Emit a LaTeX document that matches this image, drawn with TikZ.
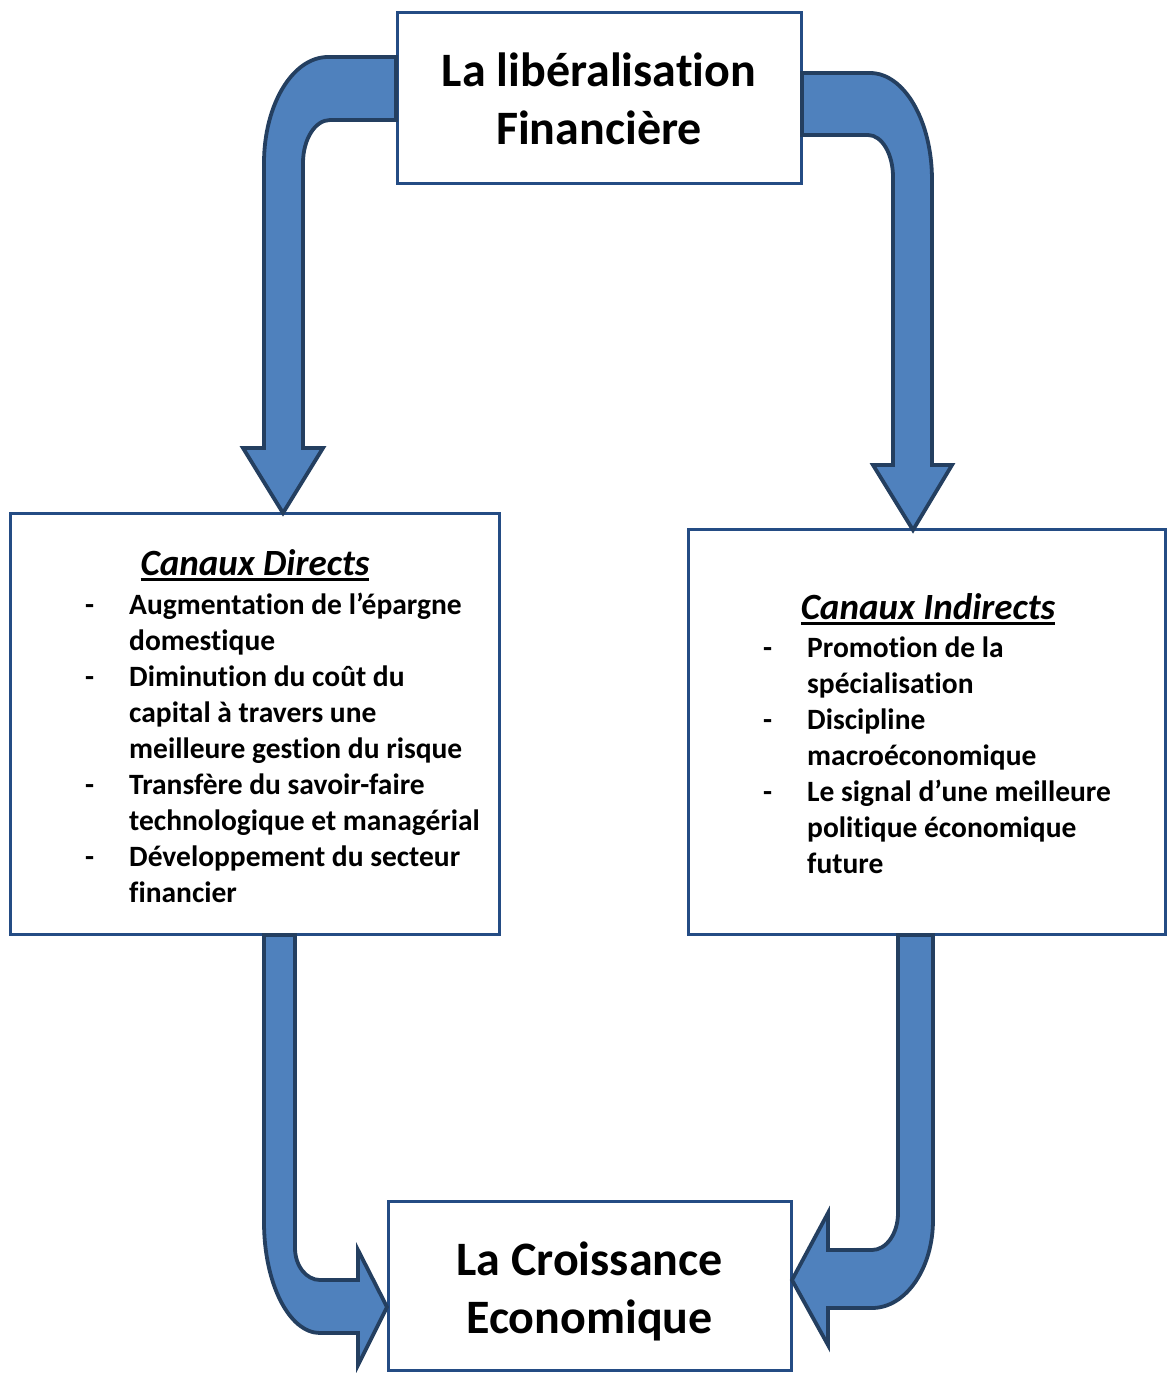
\documentclass[tikz,border=0pt]{standalone}
\usepackage{fontspec}
\setmainfont{Carlito}[Ligatures=CommonOff]
\usepackage{array}
\definecolor{boxline}{RGB}{36,76,132}
\definecolor{arrfill}{RGB}{79,129,189}
\definecolor{arrline}{RGB}{36,63,96}
\newcommand\myul[1]{\leavevmode\vtop{\hbox{#1}\kern3pt\hrule height 2.4pt}}
\tikzset{
  box/.style={draw=boxline, line width=3pt, fill=white, inner sep=0pt},
  blockarrow/.style={fill=arrfill, draw=arrline, line width=3.8pt, line join=miter},
  title/.style={align=center, inner sep=0pt, font=\fontsize{48}{58}\selectfont\bfseries},
  heading/.style={anchor=base, inner sep=0pt, font=\fontsize{37}{40}\selectfont\bfseries\itshape},
  listtext/.style={anchor=base west, inner sep=0pt, font=\fontsize{29.5}{36}\selectfont\bfseries}
}
\begin{document}
\begin{tikzpicture}[x=1pt,y=-1pt]
\useasboundingbox (0,0) rectangle (1167,1373);
% boxes
\node[box, minimum width=404pt, minimum height=171pt] (top) at (599,97.5) {};
\node[box, minimum width=489pt, minimum height=421pt] (left) at (254.5,723.5) {};
\node[box, minimum width=477pt, minimum height=405pt] (right) at (926.5,731.5) {};
\node[box, minimum width=403pt, minimum height=169pt] (bottom) at (589.5,1285.5) {};
\node[title] (toptext) at (599,99) {La libéralisation\\Financière};
\node[title] (bottomtext) at (589.5,1291) {La Croissance\\Economique};
% left box text
\node[heading] (lhead) at (255,575) {\myul{Canaux Directs}};
\node[listtext] (llist) at (85,614) {\begin{tabular}[t]{@{}p{44pt}@{}l@{}}
-& Augmentation de l’épargne\\
 & domestique\\
-& Diminution du coût du\\
 & capital à travers une\\
 & meilleure gestion du risque\\
-& Transfère du savoir-faire\\
 & technologique et managérial\\
-& Développement du secteur\\
 & financier
\end{tabular}};
% right box text
\node[heading] (rhead) at (928,619) {\myul{Canaux Indirects}};
\node[listtext] (rlist) at (763,657) {\begin{tabular}[t]{@{}p{44pt}@{}l@{}}
-& Promotion de la\\
 & spécialisation\\
-& Discipline\\
 & macroéconomique\\
-& Le signal d’une meilleure\\
 & politique économique\\
 & future
\end{tabular}};
% arrow 1: top box -> left box
\draw[blockarrow] (396,57) -- (328,57)
  .. controls (292.7,57) and (264,104.5) .. (264,163)
  -- (264,448) -- (243,448) -- (283,513) -- (323,448) -- (303,448) -- (303,163)
  .. controls (303,139.3) and (315.1,120) .. (330,120)
  -- (396,120) -- cycle;
% arrow 2: top box -> right box
\draw[blockarrow] (802,73) -- (870,73)
  .. controls (904.2,73) and (932,120.9) .. (932,180)
  -- (932,465) -- (952,465) -- (913,530) -- (873,465) -- (893,465) -- (893,177)
  .. controls (893,153.8) and (881.8,135) .. (868,135)
  -- (802,135) -- cycle;
% arrow 3: left box -> bottom box
\draw[blockarrow] (264,935) -- (264,1222)
  .. controls (264,1283.3) and (289.1,1333) .. (320,1333)
  -- (358,1333) -- (358,1365) -- (387,1307) -- (358,1250) -- (358,1280) -- (320,1280)
  .. controls (306.2,1280) and (295,1265.7) .. (295,1248)
  -- (295,935) -- cycle;
% arrow 4: right box -> bottom box
\draw[blockarrow] (933,935) -- (933,1220)
  .. controls (933,1268.6) and (905.7,1308) .. (872,1308)
  -- (828,1308) -- (828,1345) -- (792,1280) -- (828,1213) -- (828,1250) -- (872,1250)
  .. controls (886.4,1250) and (898,1233.4) .. (898,1213)
  -- (898,935) -- cycle;
\end{tikzpicture}
\end{document}
